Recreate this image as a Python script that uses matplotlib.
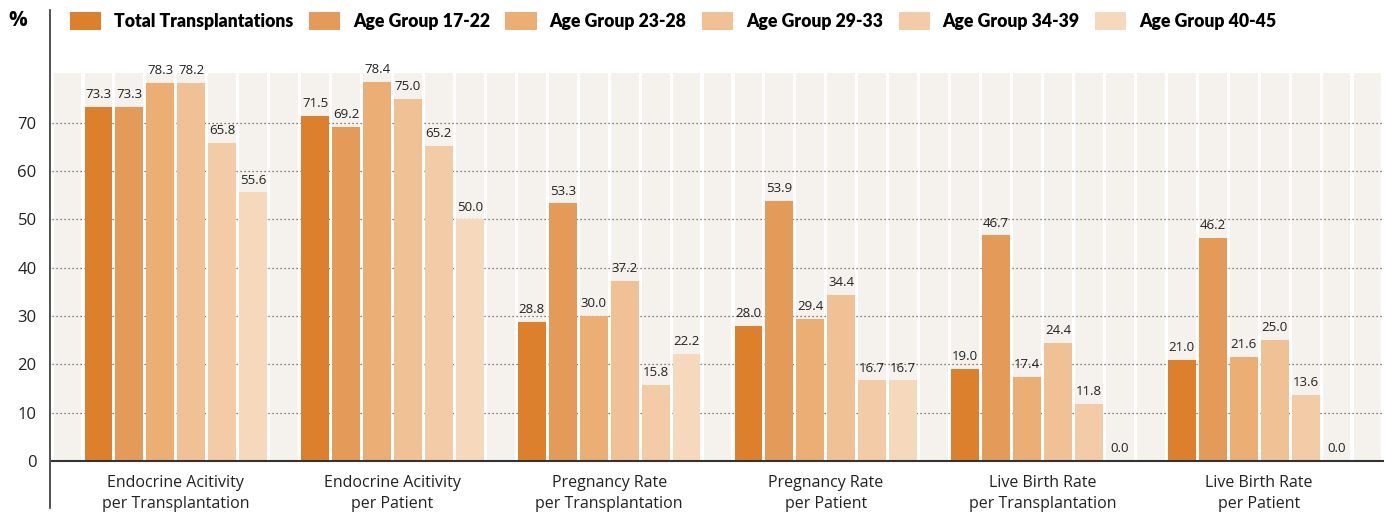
import numpy as np
import matplotlib.pyplot as plt
from matplotlib.lines import Line2D

plt.rcParams['font.family'] = ['Open Sans', 'DejaVu Sans']

# ----- data -----
categories = ["Endocrine Acitivity\nper Transplantation",
              "Endocrine Acitivity\nper Patient",
              "Pregnancy Rate\nper Transplantation",
              "Pregnancy Rate\nper Patient",
              "Live Birth Rate\nper Transplantation",
              "Live Birth Rate\nper Patient"]
series_names = ["Total Transplantations", "Age Group 17-22", "Age Group 23-28",
                "Age Group 29-33", "Age Group 34-39", "Age Group 40-45"]
total = [73.3, 71.5, 28.8, 28.0, 19.0, 21.0]
age_17_22 = [73.3, 69.2, 53.3, 53.9, 46.7, 46.2]
age_23_28 = [78.3, 78.4, 30.0, 29.4, 17.4, 21.6]
age_29_33 = [78.2, 75.0, 37.2, 34.4, 24.4, 25.0]
age_34_39 = [65.8, 65.2, 15.8, 16.7, 11.8, 13.6]
age_40_45 = [55.6, 50.0, 22.2, 16.7, 0.0, 0.0]
series = [total, age_17_22, age_23_28, age_29_33, age_34_39, age_40_45]
colors = ["#dd802d", "#e49a59", "#ebae75", "#f0c194", "#f3cba7", "#f6d8bc"]
yticks = [0, 10, 20, 30, 40, 50, 60, 70]

n_groups = len(categories)
n_series = len(series)
n_slots = 1 + n_groups * (n_series + 1)   # one empty slot before and between groups
ymax = 80.3

fig = plt.figure(figsize=(13.86, 5.13), dpi=100)
ax = fig.add_axes([52 / 1386, 52 / 513, 1331 / 1386, 388 / 513])

# background stripes, one per slot
slots = np.arange(n_slots) + 0.5
ax.bar(slots, [ymax] * n_slots, width=0.9, color="#f5f2ed", zorder=0)

# dotted grid
for yv in yticks[1:]:
    ax.axhline(yv, color="#555555", lw=0.9, ls=(0, (1, 2.2)), zorder=1)

for s, (vals, col, name) in enumerate(zip(series, colors, series_names)):
    x = np.array([1 + g * (n_series + 1) + s for g in range(n_groups)]) + 0.5
    ax.bar(x, vals, width=0.9, color=col, zorder=2, label=name)
    for xi, v in zip(x, vals):
        ax.text(xi, v + 1.2, f"{v:.1f}", ha="center", va="bottom",
                fontsize=9.5, color="#222222", zorder=3)

ax.set_xlim(0, n_slots)
ax.set_ylim(0, ymax)
centers = [1 + g * (n_series + 1) + n_series / 2 for g in range(n_groups)]
ax.set_xticks(centers)
ax.set_xticklabels(categories, fontsize=11.5, color="#222222", linespacing=1.45)
ax.set_yticks(yticks)
ax.set_yticklabels([str(t) for t in yticks], fontsize=12, color="#222222")
ax.tick_params(length=0, pad=11)
ax.tick_params(axis="x", pad=10)
for sp in ax.spines.values():
    sp.set_visible(False)
ax.axhline(0, color="#333333", lw=1.5, zorder=4, clip_on=False)

# left axis line runs past the plot area
fig.add_artist(Line2D([50 / 1386, 50 / 1386], [5 / 513, 503 / 513],
                      color="#333333", lw=1.2))
fig.text(8 / 1386, 1 - 21 / 513, "%", fontsize=15, fontweight="bold",
         va="center", ha="left")

fig.legend(loc="center left", bbox_to_anchor=(70 / 1386, 1 - 21 / 513),
           ncol=6, frameon=False,
           prop={"family": "Lato", "weight": "heavy", "size": 12.7},
           handlelength=1.76, handleheight=1.14, handletextpad=0.74,
           columnspacing=0.88, borderaxespad=0, borderpad=0)

fig.savefig("out.png", dpi=100)
